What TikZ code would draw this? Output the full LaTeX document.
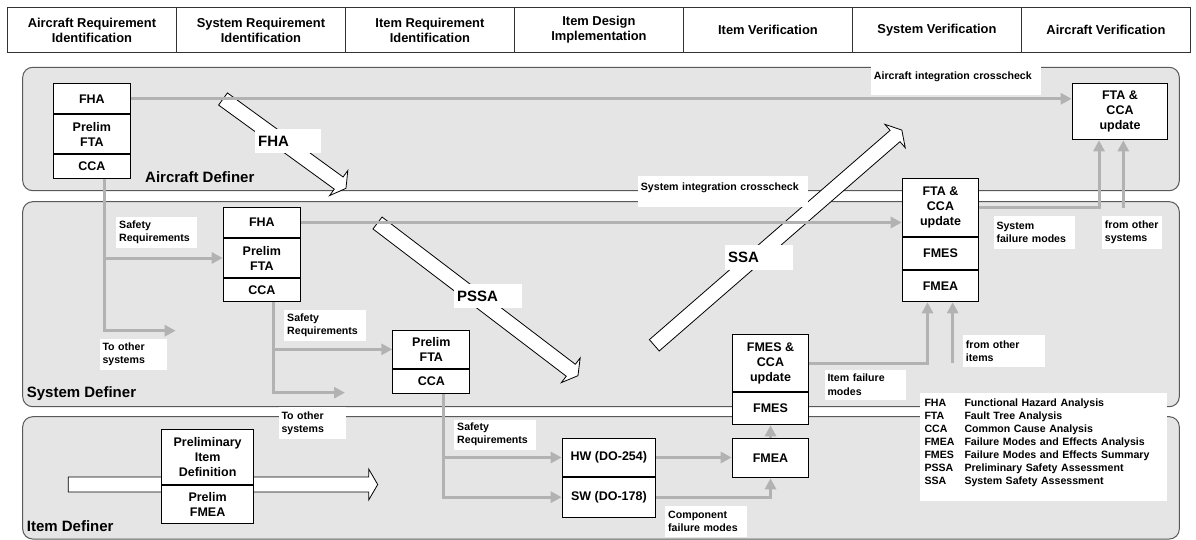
\documentclass[tikz,border=0pt]{standalone}
\usepackage{fontspec}
\setmainfont{Liberation Sans}
\usetikzlibrary{positioning,arrows.meta}
\definecolor{panelgray}{RGB}{229,229,229}
\definecolor{conngray}{RGB}{178,178,178}
% block arrow: tail, angle, length
\newcommand{\bigarrow}[3]{%
  \draw[bigarr,shift={#1},rotate=#2] (0,-7.5) -- (#3-9,-7.5) -- (#3-9,-15.5)
    -- (#3,0) -- (#3-9,15.5) -- (#3-9,7.5) -- (0,7.5) -- cycle;}
\begin{document}
\begin{tikzpicture}
[x=1pt,y=-1pt,
 panel/.style={draw=black!65,line width=1pt,fill=panelgray,rounded corners=10pt},
 hdr/.style={draw=black!80,line width=0.9pt,minimum width=169pt,
             minimum height=45pt,inner sep=0pt,align=center,
             font=\fontsize{12.9}{15}\selectfont\bfseries},
 anbox/.style={draw=black,line width=1pt,fill=white,inner sep=0pt,
               align=center,font=\fontsize{12.5}{15}\selectfont\bfseries},
 conn/.style={draw=conngray,line width=3pt,-{Triangle[length=11pt,width=11pt]}},
 lbl/.style={fill=white,inner xsep=3pt,inner ysep=0pt,anchor=north west,
             align=left,font=\fontsize{10.6}{13.5}\selectfont\bfseries},
 biglbl/.style={fill=white,inner xsep=3pt,inner ysep=0pt,anchor=north west,
                align=left,font=\fontsize{15}{17}\selectfont\bfseries},
 definer/.style={anchor=west,inner sep=0pt,font=\fontsize{15}{17}\selectfont\bfseries},
 bigarr/.style={draw=black,line width=0.8pt,fill=white,line join=miter}]
\useasboundingbox (0,0) rectangle (1196,540);

% phases
\foreach \txt [count=\i] in {{Aircraft Requirement\\Identification},
  {System Requirement\\Identification},{Item Requirement\\Identification},
  {Item Design\\Implementation},{Item Verification},{System Verification},
  {Aircraft Verification}}
  \node[hdr,anchor=north west] (h\i) at ({7+169*(\i-1)},7) {\txt};

% definer levels
\draw[panel] (22.7,67.3) rectangle (1179.3,190.7);
\draw[panel] (22.7,201.7) rectangle (1179.3,406.7);
\draw[panel] (22.7,416.7) rectangle (1179.3,539);
\node[definer] (acDef) at (145,177.3) {Aircraft Definer};
\node[definer] (sysDef) at (26.7,394) {System Definer};
\node[definer] (itDef) at (26.7,525.7) {Item Definer};

\bigarrow{(223,99)}{-36}{152}
\bigarrow{(377.5,223)}{-37.3}{252}
\bigarrow{(654.3,345.3)}{41}{328}
\bigarrow{(68.3,484.5)}{0}{309.4}

% aircraft level
\node[anbox,anchor=north west,minimum width=77.3pt,minimum height=30pt]
  (acFHA) at (52.7,83.3) {FHA};
\node[anbox,below=0pt of acFHA,minimum width=77.3pt,minimum height=38.4pt]
  (acPFTA) {Prelim\\FTA};
\node[anbox,below=0pt of acPFTA,minimum width=77.3pt,minimum height=24.3pt]
  (acCCA) {CCA};
\node[anbox,anchor=north west,minimum width=95.6pt,minimum height=56pt]
  (acUpd) at (1071.7,83.3) {FTA \&\\CCA\\update};

% system level
\node[anbox,anchor=north west,minimum width=77.3pt,minimum height=30.6pt]
  (sysFHA) at (222.7,206.7) {FHA};
\node[anbox,below=0pt of sysFHA,minimum width=77.3pt,minimum height=38.4pt]
  (sysPFTA) {Prelim\\FTA};
\node[anbox,below=0pt of sysPFTA,minimum width=77.3pt,minimum height=23.6pt]
  (sysCCA) {CCA};
\node[anbox,anchor=north west,minimum width=76.6pt,minimum height=57.7pt]
  (sysUpd) at (901.7,178.3) {FTA \&\\CCA\\update};
\node[anbox,below=0pt of sysUpd,minimum width=76.6pt,minimum height=32pt]
  (sysFMES) {FMES};
\node[anbox,below=0pt of sysFMES,minimum width=76.6pt,minimum height=31.3pt]
  (sysFMEA) {FMEA};

% item level
\node[anbox,anchor=north west,minimum width=77pt,minimum height=37.7pt]
  (itPFTA) at (392.3,330) {Prelim\\FTA};
\node[anbox,below=0pt of itPFTA,minimum width=77pt,minimum height=24.6pt]
  (itCCA) {CCA};
\node[anbox,anchor=north west,minimum width=92.3pt,minimum height=55pt]
  (prelimDef) at (161,429.3) {Preliminary\\Item\\Definition};
\node[anbox,below=0pt of prelimDef,minimum width=92.3pt,minimum height=38pt]
  (prelimFMEA) {Prelim\\FMEA};
\node[anbox,anchor=north west,minimum width=93.3pt,minimum height=37.4pt]
  (hw) at (561.7,438.3) {HW (DO-254)};
\node[anbox,below=0pt of hw,minimum width=93.3pt,minimum height=40pt]
  (sw) {SW (DO-178)};
\node[anbox,anchor=north west,minimum width=76.6pt,minimum height=39pt]
  (itFMEA) at (731.7,438.3) {FMEA};
\node[anbox,anchor=north west,minimum width=76.6pt,minimum height=57pt]
  (itUpd) at (731.7,334) {FMES \&\\CCA\\update};
\node[anbox,below=0pt of itUpd,minimum width=76.6pt,minimum height=32.3pt]
  (itFMES) {FMES};

\coordinate (toSys1) at (175.7,330.7);
\coordinate (toSys2) at (345,392.7);
\coordinate (otherItems) at (952.7,362.7);
\coordinate (otherSys) at (1123.3,208.3);

\draw[conn] (acFHA.east) -- (acFHA.east -| acUpd.west);
\draw[conn] ([xshift=13pt]acCCA.south) |- (toSys1);
\draw[conn] ([xshift=13pt]acCCA.south) |- (sysPFTA.west);
\draw[conn] (sysFHA.east) -- (sysFHA.east -| sysUpd.west);
\draw[conn] ([xshift=12pt]sysCCA.south) |- (toSys2);
\draw[conn] ([xshift=12pt]sysCCA.south) |- (itPFTA.west);
\draw[conn] ([xshift=12.5pt]itCCA.south) |- (sw.west);
\draw[conn] ([xshift=12.5pt]itCCA.south) |- (hw.west);
\draw[conn] (hw.east) -- (hw.east -| itFMEA.west);
\draw[conn] (sw.east) -| (itFMEA.south);
\draw[conn] (itFMEA.north) -- (itFMES.south);
\draw[conn] (itUpd.east) -| ([xshift=-13pt]sysFMEA.south);
\draw[conn] (otherItems) -- (otherItems |- sysFMEA.south);
\draw[conn] (sysUpd.east) -| ([xshift=-21pt]acUpd.south);
\draw[conn] (otherSys) -- (otherSys |- acUpd.south);

% labels
\node[lbl,text width=164pt,text height=14pt,text depth=16pt]
  (lblAcInt) at (870.7,65) {Aircraft integration crosscheck};
\node[lbl,text width=164pt,text height=14pt,text depth=16.7pt]
  (lblSysInt) at (637.7,176) {System integration crosscheck};
\node[lbl,text width=74.7pt,minimum height=31pt]
  (lblSafe1) at (116,216.7) {Safety\\Requirements};
\node[lbl,text width=61.4pt,minimum height=31.7pt]
  (lblTo1) at (99.3,338.3) {To other\\systems};
\node[lbl,text width=75.7pt,minimum height=31.7pt]
  (lblSafe2) at (284,309.3) {Safety\\Requirements};
\node[lbl,text width=61.4pt,minimum height=32.3pt]
  (lblTo2) at (278.3,406.7) {To other\\systems};
\node[lbl,text width=75.7pt,minimum height=30pt]
  (lblSafe3) at (454,419.3) {Safety\\Requirements};
\node[lbl,text width=75.7pt,minimum height=30.7pt]
  (lblComp) at (665,506) {Component\\failure modes};
\node[lbl,text width=75.7pt,minimum height=30pt]
  (lblItemFail) at (824.3,369.3) {Item failure\\modes};
\node[lbl,text width=76.3pt,minimum height=31.7pt]
  (lblOtherItems) at (962.7,335) {from other\\items};
\node[lbl,text width=75.7pt,minimum height=32.3pt]
  (lblSysFail) at (993.3,216) {System\\failure modes};
\node[lbl,text width=54pt,minimum height=32.3pt]
  (lblOtherSys) at (1101.7,216) {from other\\systems};

\node[biglbl,text width=59.7pt,minimum height=23.4pt] (lblFHA) at (255,129.3) {FHA};
\node[biglbl,text width=61.7pt,minimum height=23.3pt] (lblPSSA) at (454,284) {PSSA};
\node[biglbl,text width=62pt,minimum height=25pt] (lblSSA) at (725,245) {SSA};

% legend
\node[fill=white,anchor=north west,inner xsep=4.3pt,inner ysep=0pt,
      text width=238pt,text height=14pt,text depth=94pt,
      font=\fontsize{10.6}{13}\selectfont\bfseries] (legend) at (920,392.7)
  {\begin{tabular}[t]{@{}p{40pt}@{}l@{}}
   FHA & Functional Hazard Analysis\\
   FTA & Fault Tree Analysis\\
   CCA & Common Cause Analysis\\
   FMEA & Failure Modes and Effects Analysis\\
   FMES & Failure Modes and Effects Summary\\
   PSSA & Preliminary Safety Assessment\\
   SSA & System Safety Assessment
   \end{tabular}};
\end{tikzpicture}
\end{document}
